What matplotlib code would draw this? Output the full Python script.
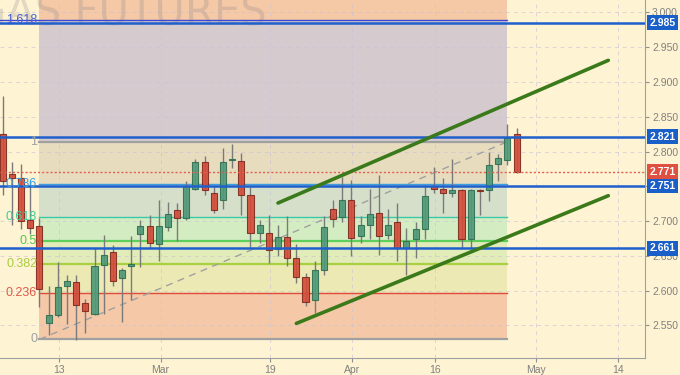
import matplotlib
matplotlib.use("Agg")
import matplotlib.pyplot as plt
import matplotlib.transforms as mtransforms
import numpy as np

plt.rcParams["font.family"] = ["Liberation Sans", "DejaVu Sans"]

# daily candles (index 0 = first visible candle)
opens = [2.825, 2.767, 2.762, 2.701, 2.693, 2.553, 2.565, 2.607, 2.612, 2.582,
         2.566, 2.637, 2.655, 2.618, 2.635, 2.682, 2.693, 2.667, 2.692, 2.716,
         2.704, 2.746, 2.785, 2.741, 2.730, 2.788, 2.787, 2.738, 2.683, 2.683,
         2.660, 2.677, 2.647, 2.619, 2.586, 2.630, 2.717, 2.706, 2.730, 2.678,
         2.695, 2.711, 2.680, 2.698, 2.661, 2.674, 2.688, 2.750, 2.746, 2.741,
         2.744, 2.674, 2.745, 2.745, 2.782, 2.788, 2.825]
highs = [2.880, 2.785, 2.782, 2.757, 2.705, 2.607, 2.641, 2.622, 2.622, 2.588,
         2.661, 2.680, 2.666, 2.632, 2.679, 2.702, 2.709, 2.730, 2.728, 2.726,
         2.757, 2.789, 2.794, 2.750, 2.805, 2.811, 2.798, 2.749, 2.702, 2.709,
         2.694, 2.707, 2.667, 2.626, 2.642, 2.707, 2.730, 2.764, 2.759, 2.707,
         2.746, 2.766, 2.717, 2.726, 2.690, 2.699, 2.752, 2.778, 2.762, 2.789,
         2.746, 2.746, 2.746, 2.800, 2.796, 2.839, 2.834]
lows = [2.738, 2.695, 2.689, 2.682, 2.576, 2.537, 2.562, 2.552, 2.529, 2.539,
        2.565, 2.567, 2.607, 2.555, 2.586, 2.634, 2.661, 2.643, 2.686, 2.672,
        2.702, 2.744, 2.737, 2.712, 2.718, 2.777, 2.709, 2.663, 2.668, 2.640,
        2.650, 2.635, 2.611, 2.578, 2.568, 2.623, 2.691, 2.699, 2.650, 2.668,
        2.675, 2.652, 2.675, 2.643, 2.623, 2.647, 2.674, 2.740, 2.711, 2.735,
        2.661, 2.661, 2.709, 2.729, 2.758, 2.780, 2.769]
closes = [2.758, 2.762, 2.700, 2.690, 2.603, 2.565, 2.606, 2.614, 2.580, 2.571,
          2.636, 2.651, 2.614, 2.630, 2.638, 2.693, 2.668, 2.693, 2.710, 2.704,
          2.750, 2.785, 2.745, 2.716, 2.785, 2.789, 2.737, 2.683, 2.695, 2.659,
          2.677, 2.647, 2.619, 2.584, 2.630, 2.691, 2.703, 2.730, 2.676, 2.694,
          2.710, 2.678, 2.695, 2.661, 2.671, 2.688, 2.736, 2.746, 2.741, 2.744,
          2.675, 2.745, 2.743, 2.781, 2.790, 2.820, 2.771]

x_labels = ["13", "Mar", "19", "Apr", "16", "May", "14"]
x_label_pos = [6.1, 17.2, 29.1, 38.1, 47.1, 58.1, 67.1]
y_ticks = [2.550, 2.600, 2.650, 2.700, 2.750, 2.800, 2.850, 2.900, 2.950, 3.000]

# fibonacci retracement drawn from candle 4 to candle 55
fib_start, fib_end = 4, 55
fib_low, fib_high = 2.530, 2.814
fib_ratios = [0, 0.236, 0.382, 0.5, 0.618, 0.786, 1, 1.618]
fib_labels = ["0", "0.236", "0.382", "0.5", "0.618", "0.786", "1", "1.618"]
fib_line_colors = ["#a0a0a0", "#e04a3a", "#a8d040", "#5cd05c", "#3cc8a8", "#3a9ee0", "#a0a0a0", "#4048d0"]
fib_text_colors = ["#a0a0a0", "#e05a4a", "#a8cc40", "#50c850", "#3ccc9c", "#3aa0e0", "#a0a0a0", "#4a60d8"]
fib_fills = ["#f5c9a8", "#ece9b4", "#e2ecb8", "#d4ecc2", "#d6dfca", "#e8dcbf", "#d5cbcf", "#f5c8a6"]

support_levels = [2.985, 2.821, 2.751, 2.661]
last_price = 2.771

upper_trend = ([30, 66], [2.726, 2.931])
lower_trend = ([32, 66], [2.553, 2.7365])

fig = plt.figure(figsize=(6.8, 3.75), dpi=100)
fig.patch.set_facecolor("#fef3d3")
ax = fig.add_axes([0, 17 / 375, 645 / 680, 358 / 375])
ax.set_facecolor("#fef3d3")

ymin, ymax = 2.5033, 3.0177
ax.set_xlim(-0.3, 70)
ax.set_ylim(ymin, ymax)

# fib zones
levels = [fib_low + r * (fib_high - fib_low) for r in fib_ratios]
zone_edges = levels + [ymax]
for k in range(len(zone_edges) - 1):
    ax.fill_between([fib_start, fib_end], zone_edges[k], zone_edges[k + 1],
                    color=fib_fills[k], lw=0, zorder=0.5)

# grid
for yv in y_ticks:
    ax.axhline(yv, color="#c8c0d8", lw=0.7, ls=(0, (4, 4)), alpha=0.6, zorder=0.6)
for xv in x_label_pos:
    ax.axvline(xv, color="#c8c0d8", lw=0.7, ls=(0, (4, 4)), alpha=0.6, zorder=0.6)

# fib level lines + labels
for k, lv in enumerate(levels):
    lw = 1.6 if fib_ratios[k] in (0, 1, 0.5, 0.382) else 1.0
    x0 = -0.3 if fib_ratios[k] == 1.618 else fib_start
    ax.plot([x0, fib_end], [lv, lv], color=fib_line_colors[k], lw=lw, zorder=1)
    ax.text(3.75, lv, fib_labels[k], color=fib_text_colors[k], fontsize=9,
            ha="right", va="center", zorder=6)

ax.plot([fib_start, fib_end], [fib_low, fib_high], color="#a0a0a0", lw=1,
        ls=(0, (5, 4)), zorder=1.2)

# candles
idx = np.arange(len(opens))
for i in idx:
    o, h, l, c = opens[i], highs[i], lows[i], closes[i]
    up = c >= o
    body_col = "#4f9a78" if up else "#d44a38"
    edge_col = "#2f6e52" if up else "#7e2a1e"
    ax.vlines(i, l, h, color="#7a7a7a", lw=1, zorder=2)
    ax.bar(i, max(abs(c - o), 0.0015), bottom=min(o, c), width=0.66,
           color=body_col, edgecolor=edge_col, lw=0.8, alpha=0.9, zorder=3)

# horizontal levels
for lv in support_levels:
    ax.axhline(lv, color="#1f5fcc", lw=1.8, zorder=4)
ax.axhline(last_price, color="#e06050", lw=1, ls=(0, (1.5, 1.5)), zorder=4)

# trend channel
ax.plot(*upper_trend, color="#3a7a1a", lw=2.6, solid_capstyle="round", zorder=5)
ax.plot(*lower_trend, color="#3a7a1a", lw=2.6, solid_capstyle="round", zorder=5)

# watermark
ax.text(-0.04, 0.93, "GAS FUTURES", transform=ax.transAxes, fontsize=30,
        family="DejaVu Sans", color="#888888", alpha=0.25, ha="left",
        va="baseline", zorder=0.8)

# axes styling
for s in ["top", "left"]:
    ax.spines[s].set_visible(False)
for s in ["right", "bottom"]:
    ax.spines[s].set_color("#a0a0a0")
ax.yaxis.tick_right()
ax.set_yticks(y_ticks)
# 2.750 sits fully under the 2.751 tag
ax.set_yticklabels(["" if abs(v - 2.75) < 1e-9 else f"{v:.3f}" for v in y_ticks])
ax.set_xticks(x_label_pos)
ax.set_xticklabels(x_labels)
ax.tick_params(axis="both", colors="#909090", labelcolor="#808080", labelsize=7.5,
               length=3, pad=2)

# price tags on the right axis
trans = mtransforms.blended_transform_factory(ax.transAxes, ax.transData)
for lv in support_levels:
    ax.text(1.0065, lv, f"{lv:.3f}", transform=trans, fontsize=7.5, fontweight="bold",
            color="white", ha="left", va="center", zorder=10, clip_on=False,
            bbox=dict(boxstyle="square,pad=0.25", fc="#1a5fc8", ec="none"))
ax.text(1.0065, last_price, f"{last_price:.3f}", transform=trans, fontsize=7.5,
        fontweight="bold", color="white", ha="left", va="center", zorder=10,
        clip_on=False, bbox=dict(boxstyle="square,pad=0.25", fc="#e05040", ec="none"))

fig.savefig("out.png", dpi=100, facecolor=fig.get_facecolor())
